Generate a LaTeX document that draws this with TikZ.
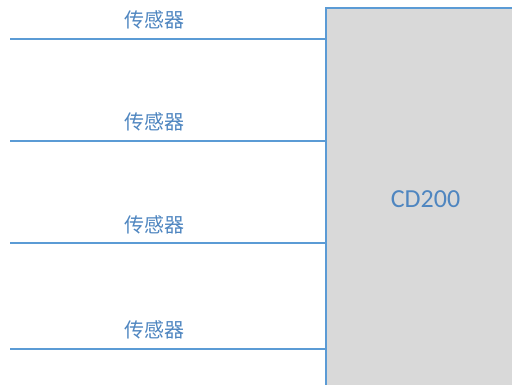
\documentclass[tikz,border=0pt]{standalone}
\usepackage{fontspec}
\setmainfont{Carlito}
\newfontfamily\cjk{Noto Sans CJK SC}
\definecolor{lineblue}{HTML}{5B9BD5}
\definecolor{textblue}{HTML}{4F86C0}
\definecolor{boxgray}{HTML}{D9D9D9}
\tikzset{
  wire/.style={draw=lineblue, line width=2.7pt},
  lbl/.style={text=textblue, font=\cjk\fontsize{20}{24}\selectfont, inner sep=0pt},
  dev/.style={fill=boxgray, draw=lineblue, line width=2pt}
}
\begin{document}
\begin{tikzpicture}[x=1pt,y=1pt]
\useasboundingbox (0,0) rectangle (512,385);
\path[dev] (325.5,-5) -- (325.5,376.5) -- (520,376.5) -- (520,-5) -- cycle;
\node[text=textblue, font=\fontsize{26}{30}\selectfont, inner sep=0pt] (cd) at (425.5,186) {CD200};
\coordinate (b1) at (325.5,346);
\coordinate (b2) at (325.5,244);
\coordinate (b3) at (325.5,142);
\coordinate (b4) at (325.5,36);
\coordinate (a1) at (10,346);
\coordinate (a2) at (10,244);
\coordinate (a3) at (10,142);
\coordinate (a4) at (10,36);
\draw[wire] (a1) -- (b1);
\draw[wire] (a2) -- (b2);
\draw[wire] (a3) -- (b3);
\draw[wire] (a4) -- (b4);
\node[lbl] (s1) at (154,365) {传感器};
\node[lbl] (s2) at (154,263) {传感器};
\node[lbl] (s3) at (154,160) {传感器};
\node[lbl] (s4) at (154,55) {传感器};
\end{tikzpicture}
\end{document}
